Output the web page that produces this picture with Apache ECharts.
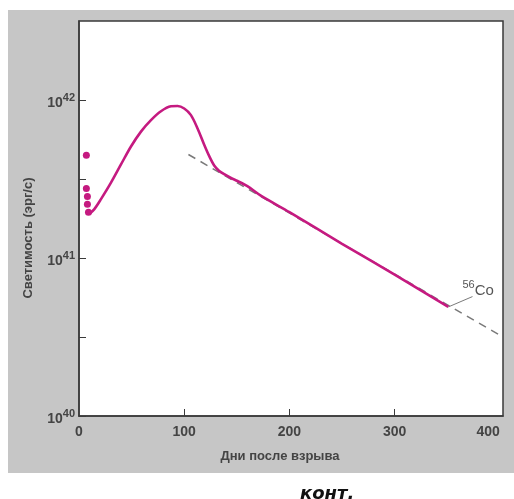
<!DOCTYPE html>
<html>
<head>
<meta charset="utf-8">
<script src="https://cdn.jsdelivr.net/npm/echarts@6/dist/echarts.min.js"></script>
<style>
  html, body { margin: 0; padding: 0; background: #fff; }
  #chart { width: 514px; height: 499px; }
</style>
</head>
<body>
<div id="chart"></div>
<script>
// кривая блеска, дни после взрыва / светимость (эрг/с)
var curveDays = [9.8, 14.6, 20.9, 30.4, 39.9, 49.4, 58.9, 68.4, 77.9, 87.4, 93.7, 100, 106.4, 112.7, 119, 123.8, 128.5, 133, 138, 144, 150.7, 160, 172.8, 200, 250, 300, 351];
var curveLum = [1.90e41, 2.04e41, 2.36e41, 3.00e41, 3.91e41, 5.08e41, 6.31e41, 7.46e41, 8.49e41, 9.12e41, 9.16e41, 8.83e41, 8.02e41, 6.61e41, 5.21e41, 4.41e41, 3.85e41, 3.57e41, 3.39e41, 3.22e41, 3.07e41, 2.85e41, 2.48e41, 1.95e41, 1.23e41, 7.85e40, 4.90e40];

// ранние точки
var dotDays = [7, 7, 8, 8, 9];
var dotLum = [4.47e41, 2.75e41, 2.45e41, 2.19e41, 1.95e41];

// распад 56Co (пунктир)
var coDays = [104, 403];
var coLum = [4.52e41, 3.16e40];

// выноска к подписи
var leadDays = [351, 374];
var leadLum = [4.90e40, 5.70e40];

var xLabels = [0, 100, 200, 300, 400];
var xTicks = [100, 200, 300];
var yLabels = [1e40, 1e41, 1e42];
var yTicks = [1e40, 3.162e40, 1e41, 3.162e41, 1e42];

function pairs(xs, ys) {
	var out = [];
	for (var i = 0; i < xs.length; i++) out.push([xs[i], ys[i]]);
	return out;
}

var magenta = '#c51a80';
var ink = '#3a3a3a';

var option = {
	animation: false,
	backgroundColor: '#fff',
	textStyle: { fontFamily: 'Liberation Sans, Arial, sans-serif' },
	graphic: [
		{ type: 'rect', z: -10, shape: { x: 8, y: 10, width: 506, height: 463 }, style: { fill: '#c6c6c6' } },
		{
			type: 'text', x: 28, y: 238, rotation: Math.PI / 2,
			style: { text: 'Светимость (эрг/с)', fill: '#444', font: 'bold 13px Liberation Sans, Arial', textAlign: 'center', textVerticalAlign: 'middle' }
		},
		{
			type: 'text', x: 280, y: 456,
			style: { text: 'Дни после взрыва', fill: '#444', font: 'bold 13px Liberation Sans, Arial', textAlign: 'center', textVerticalAlign: 'middle' }
		},
		{
			type: 'text', x: 300, y: 485,
			style: { text: 'конт.', fill: '#111', font: 'italic bold 18px DejaVu Sans, sans-serif' }
		}
	],
	grid: {
		left: 79, right: 11, top: 21, bottom: 83,
		show: true, backgroundColor: '#fff', borderColor: ink, borderWidth: 1.5
	},
	xAxis: {
		type: 'value', min: 0, max: 403,
		splitLine: { show: false },
		axisLine: { lineStyle: { color: ink, width: 1.5 } },
		axisTick: { inside: true, length: 7, customValues: xTicks, lineStyle: { color: ink } },
		axisLabel: {
			customValues: xLabels, margin: 9, alignMaxLabel: 'right',
			color: '#444', fontSize: 14, fontWeight: 'bold'
		}
	},
	yAxis: {
		type: 'log', logBase: 10, min: 1e40, max: 3.1623e42,
		splitLine: { show: false },
		axisLine: { lineStyle: { color: ink, width: 1.5 } },
		axisTick: { inside: true, length: 7, customValues: yTicks, lineStyle: { color: ink } },
		axisLabel: {
			customValues: yLabels, margin: 4,
			formatter: function (v) {
				return '{b|10}{s|' + Math.round(Math.log10(v)) + '}';
			},
			rich: {
				b: { fontSize: 14, fontWeight: 'bold', color: '#444', padding: [6, 0, 0, 0] },
				s: { fontSize: 11, fontWeight: 'bold', color: '#444', padding: [0, 0, 4, 0] }
			}
		}
	},
	series: [
		{
			name: '56Co', type: 'line', data: pairs(coDays, coLum),
			showSymbol: false, z: 1,
			lineStyle: { color: '#7a7a7a', width: 1.5, type: [8, 6] }
		},
		{
			name: 'кривая', type: 'line', data: pairs(curveDays, curveLum),
			smooth: 0.3, showSymbol: false, z: 3,
			lineStyle: { color: magenta, width: 2.6 }
		},
		{
			name: 'точки', type: 'scatter', data: pairs(dotDays, dotLum),
			symbolSize: 7, z: 3,
			itemStyle: { color: magenta, opacity: 1 }
		},
		{
			name: 'выноска', type: 'line', data: pairs(leadDays, leadLum),
			showSymbol: false, z: 2,
			lineStyle: { color: '#7a7a7a', width: 1 },
			endLabel: {
				show: true, offset: [-18, -6],
				formatter: '{s|56}{c|Co}',
				rich: {
					s: { fontSize: 11, color: '#555', padding: [0, 0, 11, 0] },
					c: { fontSize: 15, color: '#555' }
				}
			}
		}
	]
};

var chart = echarts.init(document.getElementById('chart'));
chart.setOption(option);
</script>
</body>
</html>
